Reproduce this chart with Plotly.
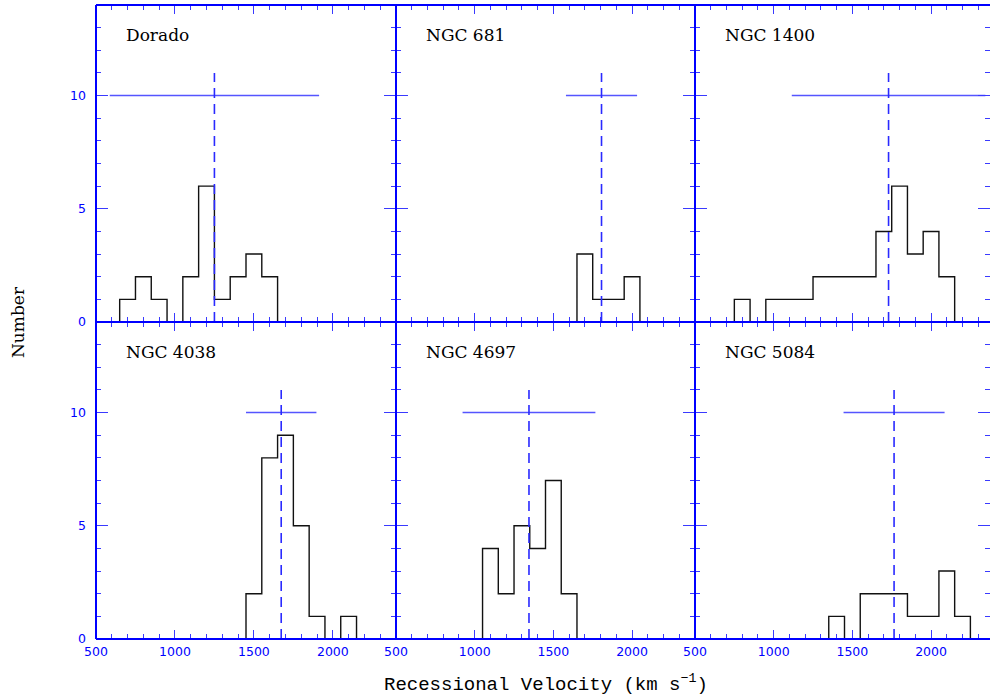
import plotly.graph_objects as go
from plotly.subplots import make_subplots

# ---------------- data ----------------
names = ["Dorado", "NGC 681", "NGC 1400", "NGC 4038", "NGC 4697", "NGC 5084"]
bin_width = 100
first_edges = [650, 1650, 750, 1450, 1050, 1350]
counts_dorado = [1, 2, 1, 0, 2, 6, 1, 2, 3, 2]
counts_ngc681 = [3, 1, 1, 2]
counts_ngc1400 = [1, 0, 1, 1, 1, 2, 2, 2, 2, 4, 6, 3, 4, 2]
counts_ngc4038 = [2, 8, 9, 5, 1, 0, 1]
counts_ngc4697 = [4, 2, 5, 4, 7, 2]
counts_ngc5084 = [1, 0, 2, 2, 2, 1, 1, 3, 1]
all_counts = [counts_dorado, counts_ngc681, counts_ngc1400,
              counts_ngc4038, counts_ngc4697, counts_ngc5084]
mean_velocity = [1250, 1806, 1730, 1673, 1345, 1765]
half_range = [663, 226, 615, 223, 422, 321]
range_level = 10
marker_top = 11
x_tick_vals = [500, 1000, 1500, 2000]
y_tick_vals = [0, 5, 10]

# ---------------- figure ----------------
W, H = 990, 698
BLUE = "#0000ff"
TICKBLUE = "#3a3aff"

fig = make_subplots(rows=2, cols=3, horizontal_spacing=0, vertical_spacing=0)

px_x = [(96, 396), (396, 695), (695, 990)]
px_y = [(5, 322), (322, 639)]
x_ranges = [[500, 2400], [500, 2400], [500, 500 + 295 * 1900 / 299]]

for i, name in enumerate(names):
    r, c = i // 3, i % 3
    counts = all_counts[i]
    e0 = first_edges[i]
    xs = [e0]
    ys = [0]
    for k, n in enumerate(counts):
        xs.append(e0 + k * bin_width)
        ys.append(n)
    xs.append(e0 + len(counts) * bin_width)
    ys.append(0)
    fig.add_trace(go.Scatter(x=xs, y=ys, mode="lines", line_shape="hv",
                             line=dict(color="#111111", width=1.4),
                             showlegend=False, hoverinfo="skip"),
                  row=r + 1, col=c + 1)
    m = mean_velocity[i]
    fig.add_trace(go.Scatter(x=[m - half_range[i], m + half_range[i]],
                             y=[range_level, range_level], mode="lines",
                             line=dict(color="#5555ff", width=1.6),
                             showlegend=False, hoverinfo="skip"),
                  row=r + 1, col=c + 1)
    fig.add_trace(go.Scatter(x=[m, m], y=[0, marker_top], mode="lines",
                             line=dict(color="#2a2aff", width=1.6, dash="10px,6px"),
                             showlegend=False, hoverinfo="skip"),
                  row=r + 1, col=c + 1)

    xa = "xaxis" if i == 0 else f"xaxis{i+1}"
    ya = "yaxis" if i == 0 else f"yaxis{i+1}"
    x0, x1 = px_x[c]
    y0, y1 = px_y[r]
    fig.layout[xa].update(
        domain=[x0 / W, x1 / W], range=x_ranges[c], showgrid=False, zeroline=False,
        automargin=False,
        showline=False, mirror="ticks", ticks="inside", ticklen=9, tickwidth=1.3,
        tickcolor=TICKBLUE, tickmode="array", tickvals=x_tick_vals,
        ticktext=[str(v) for v in x_tick_vals],
        showticklabels=(r == 1), ticklabelstandoff=3,
        tickfont=dict(family="DejaVu Sans", size=12.5, color=BLUE),
        minor=dict(dtick=100, tick0=500, ticks="inside", ticklen=5,
                   tickwidth=1.2, tickcolor=TICKBLUE, showgrid=False),
    )
    fig.layout[ya].update(
        domain=[1 - y1 / H, 1 - y0 / H], range=[0, 14], showgrid=False, zeroline=False,
        automargin=False,
        showline=False, mirror="ticks", ticks="inside", ticklen=12, tickwidth=1.3,
        tickcolor=TICKBLUE, tickmode="array", tickvals=y_tick_vals,
        ticktext=[str(v) for v in y_tick_vals],
        showticklabels=(c == 0), ticklabelstandoff=9,
        tickfont=dict(family="DejaVu Sans", size=12.5, color=BLUE),
        minor=dict(dtick=1, tick0=0, ticks="inside", ticklen=5,
                   tickwidth=1.2, tickcolor=TICKBLUE, showgrid=False),
    )

    xd = "x domain" if i == 0 else f"x{i+1} domain"
    yd = "y domain" if i == 0 else f"y{i+1} domain"
    edges = [(0, 0, 1, 0), (0, 1, 1, 1), (0, 0, 0, 1)]
    if c < 2:
        edges.append((1, 0, 1, 1))
    for (ax0, ay0, ax1, ay1) in edges:
        fig.add_shape(type="line", xref=xd, yref=yd, x0=ax0, y0=ay0, x1=ax1, y1=ay1,
                      line=dict(color=BLUE, width=2))
    fig.add_annotation(text=name, xref=xd, yref=yd, x=28 / 300, y=1 - 30 / 317,
                       xanchor="left", yanchor="middle", showarrow=False,
                       font=dict(family="DejaVu Serif", size=17, color="black"))

fig.add_annotation(text="Number", xref="paper", yref="paper", x=18 / W, y=1 - 322 / H,
                   xanchor="center", yanchor="middle", textangle=-90, showarrow=False,
                   font=dict(family="DejaVu Serif", size=17, color="black"))
fig.add_annotation(text="Recessional Velocity (km s<sup>−1</sup>)", xref="paper", yref="paper",
                   x=546 / W, y=1 - 683 / H, xanchor="center", yanchor="middle",
                   showarrow=False,
                   font=dict(family="Liberation Mono", size=19, color="black"))

fig.update_layout(width=W, height=H, margin=dict(l=0, r=0, t=0, b=0),
                  paper_bgcolor="white", plot_bgcolor="white", showlegend=False)

fig.write_html("out.html")
